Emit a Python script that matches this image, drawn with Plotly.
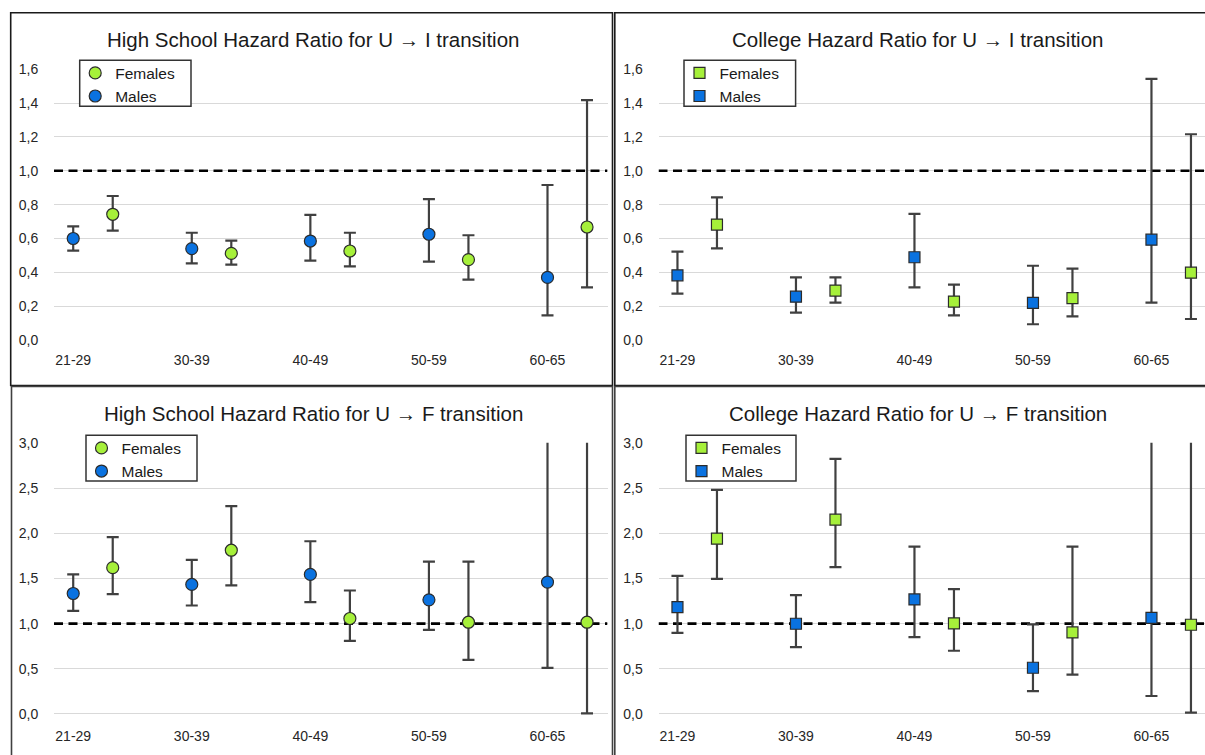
import plotly.graph_objects as go

W, H = 1205, 755

categories = ["21-29", "30-39", "40-49", "50-59", "60-65"]
cat_pos = [1, 2, 3, 4, 5]
female_offset = 1 / 3
reference_level = 1.0

# High School, U -> I
hs_ui_male = [0.60, 0.54, 0.585, 0.625, 0.37]
hs_ui_male_lo = [0.528, 0.453, 0.469, 0.463, 0.146]
hs_ui_male_hi = [0.672, 0.634, 0.739, 0.833, 0.916]
hs_ui_female = [0.743, 0.512, 0.526, 0.475, 0.668]
hs_ui_female_lo = [0.646, 0.445, 0.435, 0.357, 0.311]
hs_ui_female_hi = [0.851, 0.587, 0.634, 0.619, 1.418]

# College, U -> I
col_ui_male = [0.382, 0.256, 0.489, 0.219, 0.593]
col_ui_male_lo = [0.274, 0.162, 0.311, 0.093, 0.221]
col_ui_male_hi = [0.522, 0.370, 0.745, 0.439, 1.543]
col_ui_female = [0.682, 0.292, 0.227, 0.248, 0.398]
col_ui_female_lo = [0.542, 0.221, 0.146, 0.140, 0.124]
col_ui_female_hi = [0.843, 0.370, 0.327, 0.422, 1.216]

# High School, U -> F
hs_uf_male = [1.334, 1.434, 1.545, 1.264, 1.460]
hs_uf_male_lo = [1.142, 1.201, 1.238, 0.931, 0.510]
hs_uf_male_hi = [1.545, 1.705, 1.912, 1.687, 3.6]
hs_uf_female = [1.620, 1.813, 1.057, 1.016, 1.016]
hs_uf_female_lo = [1.327, 1.423, 0.809, 0.599, 0.007]
hs_uf_female_hi = [1.957, 2.300, 1.367, 1.687, 3.6]

# College, U -> F
col_uf_male = [1.183, 0.999, 1.268, 0.512, 1.065]
col_uf_male_lo = [0.899, 0.741, 0.851, 0.254, 0.199]
col_uf_male_hi = [1.530, 1.316, 1.853, 0.992, 3.6]
col_uf_female = [1.941, 2.151, 1.003, 0.903, 0.988]
col_uf_female_lo = [1.495, 1.625, 0.700, 0.435, 0.015]
col_uf_female_hi = [2.482, 2.824, 1.382, 1.853, 3.6]

titles = [
    "High School Hazard Ratio for U \u2192 I transition",
    "College Hazard Ratio for U \u2192 I transition",
    "High School Hazard Ratio for U \u2192 F transition",
    "College Hazard Ratio for U \u2192 F transition",
]

GREEN = "#A6F03A"
BLUE = "#0A72E0"
ERR = "#404040"
FONT = "Liberation Sans, Arial, sans-serif"


def px(x):
    return x / W


def py(y):
    return 1 - y / H


# axis geometry (pixels)
left_x = (54, 607.5)
right_x = (658.5, 1205)
top_y = (68.96, 340.68)
bot_y = (442.8, 715.8)

x_range_left = [0.838, 5.506]
x_range_right = [0.84, 0.84 + (right_x[1] - right_x[0]) / 118.5]

panels = [
    dict(xa="x", ya="y", sym="circle", size=12, legend="legend", xr=x_range_left,
         male=(hs_ui_male, hs_ui_male_lo, hs_ui_male_hi),
         female=(hs_ui_female, hs_ui_female_lo, hs_ui_female_hi)),
    dict(xa="x2", ya="y2", sym="square", size=11, legend="legend2", xr=x_range_right,
         male=(col_ui_male, col_ui_male_lo, col_ui_male_hi),
         female=(col_ui_female, col_ui_female_lo, col_ui_female_hi)),
    dict(xa="x3", ya="y3", sym="circle", size=12, legend="legend3", xr=x_range_left,
         male=(hs_uf_male, hs_uf_male_lo, hs_uf_male_hi),
         female=(hs_uf_female, hs_uf_female_lo, hs_uf_female_hi)),
    dict(xa="x4", ya="y4", sym="square", size=11, legend="legend4", xr=x_range_right,
         male=(col_uf_male, col_uf_male_lo, col_uf_male_hi),
         female=(col_uf_female, col_uf_female_lo, col_uf_female_hi)),
]

fig = go.Figure()

for p in panels:
    # dashed reference line at hazard ratio 1.0, spanning the axis range
    fig.add_trace(go.Scatter(
        x=p["xr"], y=[reference_level, reference_level], mode="lines",
        xaxis=p["xa"], yaxis=p["ya"], showlegend=False, hoverinfo="skip",
        line=dict(color="black", width=2.6, dash="9px,5.5px"),
    ))
    for name, key, color, off in [("Females", "female", GREEN, female_offset),
                                  ("Males", "male", BLUE, 0.0)]:
        vals, lo, hi = p[key]
        fig.add_trace(go.Scatter(
            x=[c + off for c in cat_pos], y=vals, name=name, mode="markers",
            xaxis=p["xa"], yaxis=p["ya"], legend=p["legend"],
            marker=dict(symbol=p["sym"], size=p["size"], color=color,
                        line=dict(color="#2b2b2b", width=1.2)),
            error_y=dict(type="data", symmetric=False,
                         array=[h - v for h, v in zip(hi, vals)],
                         arrayminus=[v - l for v, l in zip(vals, lo)],
                         color=ERR, thickness=2.2, width=6),
        ))

xcommon = dict(tickvals=cat_pos, ticktext=categories, showgrid=False, zeroline=False,
               showline=False, ticks="outside", ticklen=7, tickcolor="rgba(0,0,0,0)",
               tickfont=dict(family=FONT, size=14, color="#262626"), automargin=False,
               fixedrange=True)
ycommon = dict(showgrid=True, gridcolor="#D9D9D9", gridwidth=1, zeroline=False,
               showline=False, ticks="outside", ticklen=12, tickcolor="rgba(0,0,0,0)",
               tickformat=".1f", tickfont=dict(family=FONT, size=14, color="#262626"),
               automargin=False, fixedrange=True)

layout = dict(
    width=W, height=H, template="none", separators=", ",
    paper_bgcolor="white", plot_bgcolor="white",
    margin=dict(l=0, r=0, t=0, b=0, pad=0),
    font=dict(family=FONT, color="#1a1a1a"),
    showlegend=True,
)

axes_geo = [
    ("xaxis", "yaxis", "x", "y", left_x, top_y, x_range_left, [-0.004, 1.602], 0.2),
    ("xaxis2", "yaxis2", "x2", "y2", right_x, top_y, x_range_right, [-0.004, 1.602], 0.2),
    ("xaxis3", "yaxis3", "x3", "y3", left_x, bot_y, x_range_left, [-0.02, 3.002], 0.5),
    ("xaxis4", "yaxis4", "x4", "y4", right_x, bot_y, x_range_right, [-0.02, 3.002], 0.5),
]
for xk, yk, xa, ya, xd, yd, xr, yr, dt in axes_geo:
    layout[xk] = dict(xcommon, domain=[px(xd[0]), min(1.0, px(xd[1]))], range=xr,
                      anchor=ya)
    layout[yk] = dict(ycommon, domain=[py(yd[1]), py(yd[0])], range=yr, dtick=dt,
                      tick0=0, anchor=xa)

# legend boxes (x0, y0, x1, y1) in pixels
legend_boxes = [("legend", 79.7, 60.3, 191, 106.3), ("legend2", 684, 60.3, 795.6, 106.3),
                ("legend3", 86, 435.3, 197, 481), ("legend4", 686, 435.3, 796, 481)]
for lk, x0, y0, x1, y1 in legend_boxes:
    layout[lk] = dict(x=px(x0 - 4.5), y=py(y0 - 4), xanchor="left", yanchor="top",
                      bgcolor="rgba(0,0,0,0)", borderwidth=0,
                      font=dict(family=FONT, size=15.5, color="#1a1a1a"),
                      tracegroupgap=0, itemwidth=30, traceorder="normal")

fig.update_layout(**layout)

for lk, x0, y0, x1, y1 in legend_boxes:
    fig.add_shape(type="rect", xref="paper", yref="paper", x0=px(x0), x1=px(x1),
                  y0=py(y1), y1=py(y0), line=dict(color="#333333", width=1.5),
                  fillcolor="white", layer="above")

# panel titles
title_pos = [(312.5, 39.5), (917.5, 39.5), (313.5, 413), (917.8, 413)]
for t, (tx, ty) in zip(titles, title_pos):
    fig.add_annotation(text=t, x=px(tx), y=py(ty), xref="paper", yref="paper",
                       xanchor="center", yanchor="middle", showarrow=False,
                       font=dict(family=FONT, size=20.5, color="#1a1a1a"))

# panel borders
borders = [
    (10.7, 12.7, 612.5, 385.5, "#1a1a1a"),
    (614.8, 12.7, 1230, 385.5, "#1a1a1a"),
    (11.5, 386.5, 612.5, 780, "#404040"),
    (614.8, 386.5, 1230, 780, "#404040"),
]
for x0, y0, x1, y1, c in borders:
    fig.add_shape(type="rect", xref="paper", yref="paper", x0=px(x0), x1=px(x1),
                  y0=py(y1), y1=py(y0), line=dict(color=c, width=1.6),
                  fillcolor="rgba(0,0,0,0)", layer="above")

fig.write_html("out.html", config={"displayModeBar": False},
               post_script="document.body.style.margin='0';"
                           "document.body.style.overflow='hidden';")
